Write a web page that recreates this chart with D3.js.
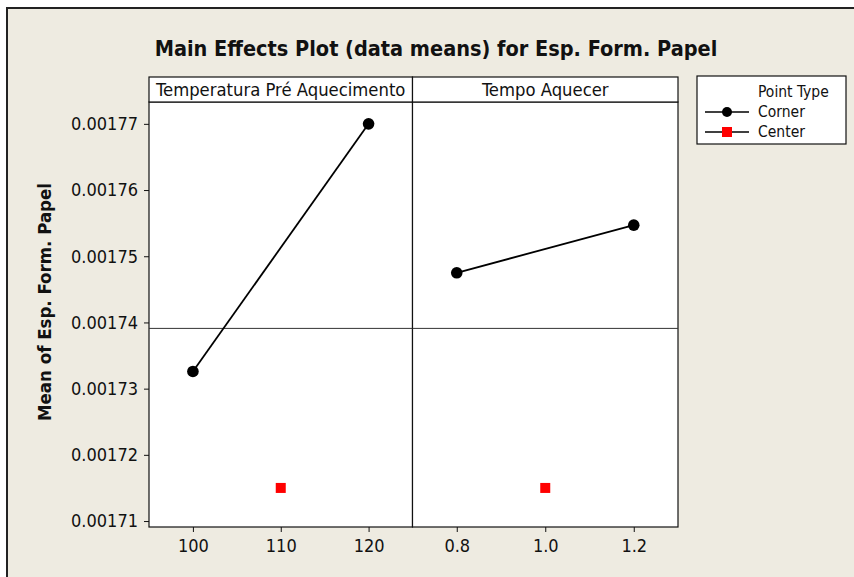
<!DOCTYPE html>
<html>
<head>
<meta charset="utf-8">
<script src="https://cdn.jsdelivr.net/npm/d3@7"></script>
<style>
  body { margin: 0; background: #fff; }
  svg text { font-family: 'DejaVu Sans Condensed', 'DejaVu Sans', sans-serif; font-stretch: condensed; fill: #111; }
  .tick text { font-size: 18px; }
  .strip-label { font-size: 18.3px; }
  .title { font-size: 21.5px; font-weight: bold; }
  .y-title { font-size: 18.5px; font-weight: bold; }
  .legend text { font-size: 15.5px; }
</style>
</head>
<body>
<div id="chart"></div>
<script>
// factor levels and corner-point means
var tempLevels = [100, 120];
var tempMeans = [0.0017326, 0.00177];
var tempoLevels = [0.8, 1.2];
var tempoMeans = [0.0017475, 0.0017547];

// center points
var tempCenter = 110;
var tempoCenter = 1.0;
var centerMean = 0.001715;

var overallMean = 0.0017391;

var tempTicks = [100, 110, 120];
var tempoTicks = [0.8, 1.0, 1.2];
var yTicks = [0.00171, 0.00172, 0.00173, 0.00174, 0.00175, 0.00176, 0.00177];

var width = 854, height = 577;

var svg = d3.select('#chart')
    .append('svg')
    .attr('width', width)
    .attr('height', height);

// beige background with frame
svg.append('rect')
    .attr('x', 7).attr('y', 8)
    .attr('width', 900).attr('height', 600)
    .attr('fill', '#eeebe1')
    .attr('stroke', '#222')
    .attr('stroke-width', 2);

svg.append('text')
    .attr('class', 'title')
    .attr('x', 436).attr('y', 56)
    .attr('text-anchor', 'middle')
    .text('Main Effects Plot (data means) for Esp. Form. Papel');

var panelTop = 102, panelBottom = 527, stripTop = 77;

var yScale = d3.scaleLinear()
    .domain([0.0017091, 0.0017733])
    .range([panelBottom, panelTop]);

var panels = [
    { name: 'Temperatura Pré Aquecimento', levels: tempLevels, means: tempMeans, center: tempCenter,
      ticks: tempTicks, fmt: d3.format('d'), x: d3.scaleLinear().domain([95, 125]).range([149, 412.5]) },
    { name: 'Tempo Aquecer', levels: tempoLevels, means: tempoMeans, center: tempoCenter,
      ticks: tempoTicks, fmt: d3.format('.1f'), x: d3.scaleLinear().domain([0.7, 1.3]).range([412.5, 678]) }
];

panels.forEach(function(p) {
    var x0 = p.x.range()[0], x1 = p.x.range()[1];

    svg.append('rect')
        .attr('x', x0).attr('y', panelTop)
        .attr('width', x1 - x0).attr('height', panelBottom - panelTop)
        .attr('fill', '#fff')
        .attr('stroke', '#111')
        .attr('stroke-width', 1.2);

    svg.append('rect')
        .attr('x', x0).attr('y', stripTop)
        .attr('width', x1 - x0).attr('height', panelTop - stripTop)
        .attr('fill', '#fff')
        .attr('stroke', '#111')
        .attr('stroke-width', 1.2);

    svg.append('text')
        .attr('class', 'strip-label')
        .attr('x', (x0 + x1) / 2).attr('y', panelTop - 6)
        .attr('text-anchor', 'middle')
        .text(p.name);

    var xAxis = d3.axisBottom(p.x)
        .tickValues(p.ticks)
        .tickFormat(p.fmt)
        .tickSize(5)
        .tickPadding(7);

    var gx = svg.append('g')
        .attr('class', 'x-axis axis')
        .attr('transform', 'translate(0,' + panelBottom + ')')
        .call(xAxis);
    gx.select('.domain').remove();
    gx.selectAll('line').attr('stroke', '#111');

    // overall mean reference line
    svg.append('line')
        .attr('x1', x0).attr('x2', x1)
        .attr('y1', yScale(overallMean)).attr('y2', yScale(overallMean))
        .attr('stroke', '#333')
        .attr('stroke-width', 1);

    var pts = p.levels.map(function(l, i) { return { x: l, y: p.means[i] }; });

    svg.append('path')
        .datum(pts)
        .attr('fill', 'none')
        .attr('stroke', '#000')
        .attr('stroke-width', 1.8)
        .attr('d', d3.line()
            .x(function(d) { return p.x(d.x); })
            .y(function(d) { return yScale(d.y); }));

    svg.selectAll(null)
        .data(pts)
        .enter()
        .append('circle')
        .attr('cx', function(d) { return p.x(d.x); })
        .attr('cy', function(d) { return yScale(d.y); })
        .attr('r', 5.8)
        .attr('fill', '#000');

    svg.append('rect')
        .attr('x', p.x(p.center) - 5)
        .attr('y', yScale(centerMean) - 5)
        .attr('width', 10).attr('height', 10)
        .attr('fill', '#ff0000');
});

// shared y axis on the left panel
var yAxis = d3.axisLeft(yScale)
    .tickValues(yTicks)
    .tickFormat(d3.format('.5f'))
    .tickSize(5)
    .tickPadding(6);

var gy = svg.append('g')
    .attr('class', 'y-axis axis')
    .attr('transform', 'translate(149,0)')
    .call(yAxis);
gy.select('.domain').remove();
gy.selectAll('line').attr('stroke', '#111');

svg.append('text')
    .attr('class', 'y-title')
    .attr('text-anchor', 'middle')
    .attr('transform', 'translate(51,302)rotate(-90)')
    .text('Mean of Esp. Form. Papel');

// legend
var legend = svg.append('g').attr('class', 'legend');

legend.append('rect')
    .attr('x', 697).attr('y', 76)
    .attr('width', 149).attr('height', 68)
    .attr('fill', '#fff')
    .attr('stroke', '#111')
    .attr('stroke-width', 1.2);

legend.append('text')
    .attr('x', 758).attr('y', 97)
    .text('Point Type');

var legendItems = ['Corner', 'Center'];
var legendY = d3.scalePoint().domain(legendItems).range([112, 132]);

legendItems.forEach(function(d) {
    var y = legendY(d);
    legend.append('line')
        .attr('x1', 705).attr('x2', 749)
        .attr('y1', y).attr('y2', y)
        .attr('stroke', '#000')
        .attr('stroke-width', 1.5);
    if (d === 'Corner') {
        legend.append('circle')
            .attr('cx', 727).attr('cy', y).attr('r', 5)
            .attr('fill', '#000');
    } else {
        legend.append('rect')
            .attr('x', 722).attr('y', y - 5)
            .attr('width', 10).attr('height', 10)
            .attr('fill', '#ff0000');
    }
    legend.append('text')
        .attr('x', 758).attr('y', y + 5)
        .text(d);
});
</script>
</body>
</html>
